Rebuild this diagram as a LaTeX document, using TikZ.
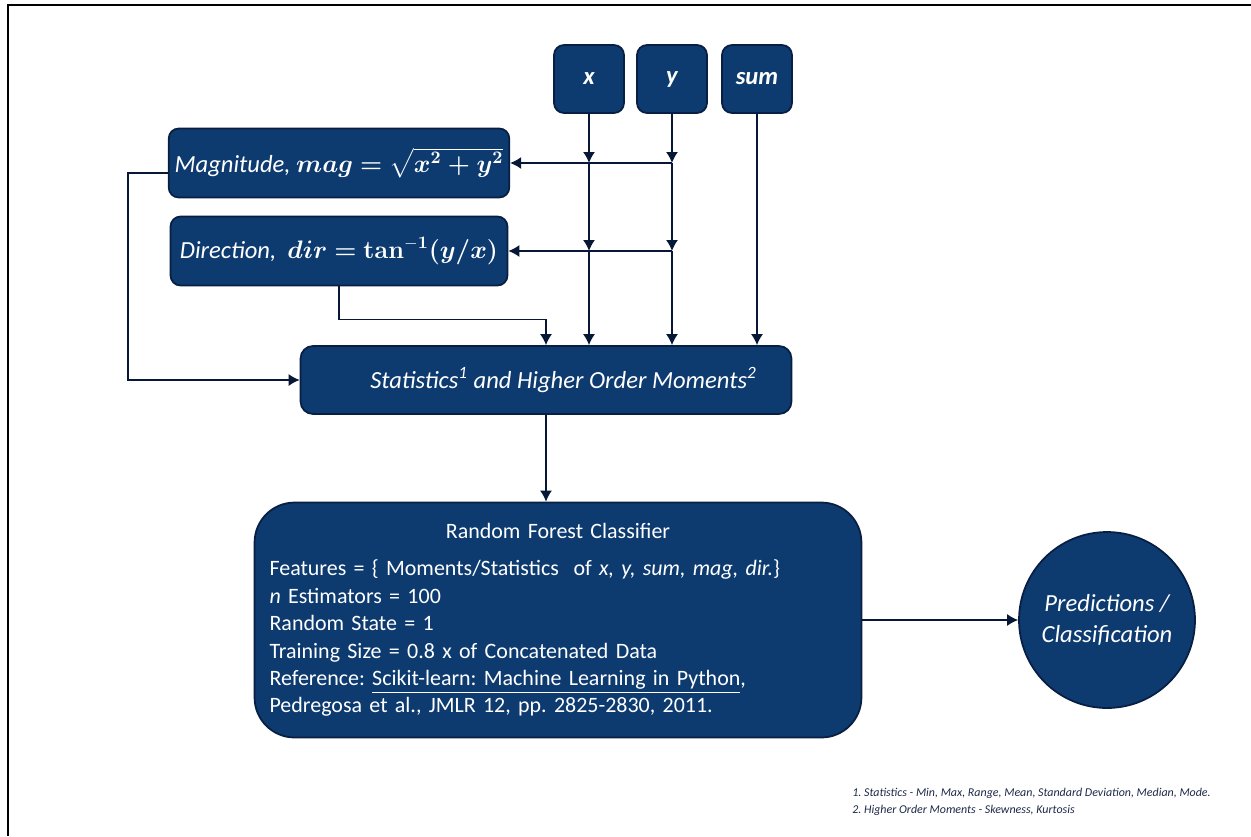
\documentclass[tikz,border=0pt]{standalone}
\usepackage{amsmath,amssymb}
\usepackage[no-math]{fontspec}
\setmainfont{Carlito}
\usepackage{xcolor}
\usepackage{tikz}
\usetikzlibrary{positioning,calc,arrows.meta}

\definecolor{navyfill}{RGB}{13,59,112}
\definecolor{navyline}{RGB}{8,30,66}
\definecolor{notetext}{RGB}{28,40,70}

\newcommand{\magtext}{Magnitude,\ $\boldsymbol{mag} \boldsymbol{=} \sqrt{\boldsymbol{x^2 + y^2}}$}
\newcommand{\dirtext}{Direction,\ \ $\boldsymbol{dir} \boldsymbol{=} \mathbf{tan}^{\mathbf{-1}}\boldsymbol{(y/x)}$}

\tikzset{
  navybox/.style={draw=navyline, line width=1pt, fill=navyfill, text=white,
    rounded corners=0.2cm, font=\fontsize{14}{16}\selectfont\itshape},
  varbox/.style={navybox, minimum width=1.4cm, minimum height=1.36cm},
  eqbox/.style={navybox, minimum width=6.74cm, minimum height=1.38cm},
  link/.style={thick, color=navyline!80!black, -{Latex[length=2.2mm,width=2.4mm]}},
}

\begin{document}
\frenchspacing
\begin{tikzpicture}[x=0.02cm, y=-0.02cm]
  \useasboundingbox (0,0) rectangle (1251,836);
  \draw[line width=1.5pt, black] (1251,5) -- (8,5) -- (8,836);

  % inputs
  \node[varbox] (xb) at (589,79) {\bfseries x};
  \node[varbox] (yb) at (672,79) {\bfseries y};
  \node[varbox] (sb) at (757,79) {\bfseries sum};

  % derived quantities
  \node[eqbox] (magb) at (339,163) {\magtext};
  \node[eqbox] (dirb) at (339,251) {\dirtext};

  \node[navybox, rounded corners=0.25cm, minimum width=9.82cm, minimum height=1.36cm] (stats) at (546,380)
    {\hspace{0.7cm}Statistics\textsuperscript{1} and Higher Order Moments\textsuperscript{2}};

  \node[navybox, rounded corners=0.8cm, font=\fontsize{12.5}{15.6}\selectfont, text width=11.54cm,
    align=left, minimum width=12.14cm, minimum height=4.7cm] (rf) at (558,620)
    {\makebox[\linewidth][c]{Random Forest Classifier}\\[0.2cm]
     Features = \{ Moments/Statistics\ \ of \textit{x, y, sum, mag, dir.}\}\\
     \textit{n} Estimators = 100\\
     Random State = 1\\
     Training Size = 0.8 x of Concatenated Data\\
     Reference: \underline{Scikit-learn: Machine Learning in Python},\\
     Pedregosa et al., JMLR 12, pp. 2825-2830, 2011.};

  \node[navybox, circle, minimum size=3.52cm, align=center, font=\fontsize{14}{18}\selectfont\itshape] (pred) at (1107,620)
    {Predictions /\\Classification};

  \node[anchor=north west, align=left, text=notetext, inner sep=0pt,
    font=\fontsize{6.8}{9.6}\selectfont\itshape] (notes) at (852,788)
    {1. Statistics - Min, Max, Range, Mean, Standard Deviation, Median, Mode.\\
     2. Higher Order Moments - Skewness, Kurtosis};

  % connectors
  \coordinate (xm) at (xb |- magb.east);
  \coordinate (xd) at (xb |- dirb.east);
  \coordinate (ym) at (yb |- magb.east);
  \coordinate (yd) at (yb |- dirb.east);
  \coordinate (magout) at ($(magb.west)+(0,10)$);
  \draw[link] (xb.south) -- (xm);
  \draw[link] (xm) -- (xd);
  \draw[link] (xd) -- (xd |- stats.north);
  \draw[link] (yb.south) -- (ym);
  \draw[link] (ym) -- (yd);
  \draw[link] (yd) -- (yd |- stats.north);
  \draw[link] (sb.south) -- (sb |- stats.north);
  \draw[link] (ym) -- (magb.east);
  \draw[link] (yd) -- (dirb.east);
  \draw[link] (dirb.south) -- ++(0,33) -| (stats.north);
  \draw[link] (magout) -- ++(-40,0) |- (stats.west);
  \draw[link] (stats.south) -- (stats.south |- rf.north);
  \draw[link] (rf.east) -- (pred.west);
\end{tikzpicture}
\end{document}
